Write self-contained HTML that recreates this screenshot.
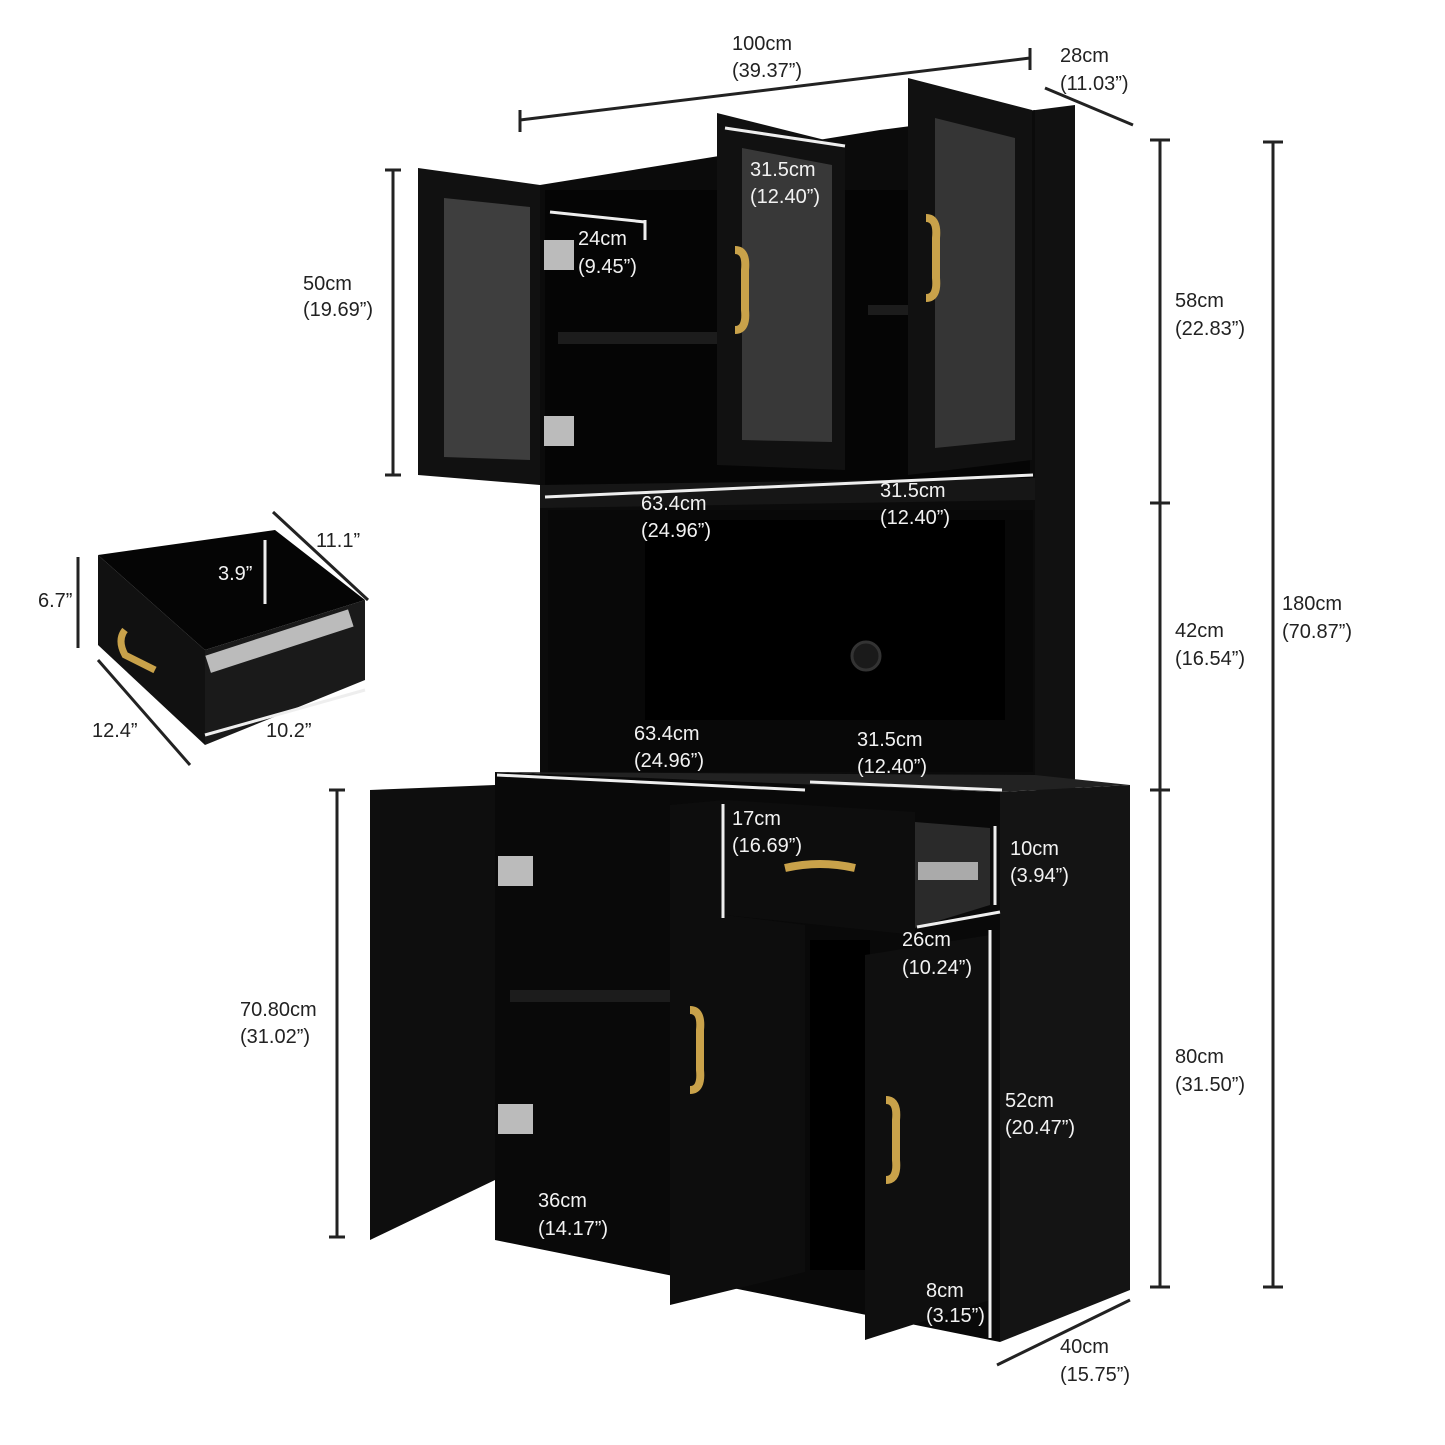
<!DOCTYPE html>
<html><head><meta charset="utf-8"><style>
html,body{margin:0;padding:0;background:#fff;}
svg{display:block}
text{font-family:"Liberation Sans",sans-serif;font-size:20px;fill:#222;}
text.w{fill:#f2f2f2;}
</style></head><body>
<svg width="1445" height="1445" viewBox="0 0 1445 1445" xmlns="http://www.w3.org/2000/svg">
<rect width="1445" height="1445" fill="#fff"/>
<polygon points="1020,112 1075,105 1075,790 1020,790" fill="#111"/>
<polygon points="540,185 880,130 1035,110 1035,790 540,790" fill="#0b0b0b"/>
<rect x="545" y="190" width="485" height="300" fill="#050505"/>
<rect x="548" y="510" width="485" height="262" fill="#080808"/>
<rect x="645" y="520" width="360" height="200" fill="#000"/>
<circle cx="866" cy="656" r="14" fill="#1a1a1a" stroke="#333" stroke-width="3"/>
<polygon points="540,485 1035,478 1035,500 540,508" fill="#161616"/>
<rect x="558" y="332" width="160" height="12" fill="#1c1c1c"/>
<rect x="868" y="305" width="40" height="10" fill="#1c1c1c"/>
<polygon points="1000,792 1130,785 1130,1290 1000,1342" fill="#141414"/>
<polygon points="495,772 1000,792 1000,1342 495,1240" fill="#090909"/>
<polygon points="495,772 1000,792 1130,785 1035,775" fill="#222"/>
<rect x="510" y="990" width="160" height="12" fill="#1c1c1c"/>
<rect x="810" y="940" width="60" height="330" fill="#000"/>
<polygon points="418,168 540,185 540,485 418,475" fill="#111"/>
<polygon points="444,198 530,207 530,460 444,457" fill="#3e3e3e"/>
<polygon points="717,113 845,145 845,470 717,465" fill="#111"/>
<polygon points="742,148 832,165 832,442 742,440" fill="#383838"/>
<polygon points="908,78 1032,110 1032,460 908,475" fill="#111"/>
<polygon points="935,118 1015,138 1015,440 935,448" fill="#353535"/>
<rect x="544" y="240" width="30" height="30" fill="#bbb"/>
<rect x="544" y="416" width="30" height="30" fill="#bbb"/>
<rect x="498" y="856" width="35" height="30" fill="#bbb"/>
<rect x="498" y="1104" width="35" height="30" fill="#bbb"/>
<path d="M735 250 q12 0 10 20 v40 q2 20 -10 20" stroke="#c9a24a" stroke-width="8" fill="none"/>
<path d="M926 218 q12 0 10 20 v40 q2 20 -10 20" stroke="#c9a24a" stroke-width="8" fill="none"/>
<polygon points="370,790 495,785 495,1180 370,1240" fill="#0e0e0e"/>
<polygon points="670,805 725,800 725,915 805,925 805,1272 670,1305" fill="#0d0d0d"/>
<polygon points="865,955 990,935 990,1300 865,1340" fill="#0f0f0f"/>
<path d="M690 1010 q12 0 10 20 v40 q2 20 -10 20" stroke="#c9a24a" stroke-width="8" fill="none"/>
<path d="M886 1100 q12 0 10 20 v40 q2 20 -10 20" stroke="#c9a24a" stroke-width="8" fill="none"/>
<polygon points="725,800 915,812 915,935 725,915" fill="#0d0d0d"/>
<polygon points="915,822 990,828 990,905 915,928" fill="#2a2a2a"/>
<rect x="918" y="862" width="60" height="18" fill="#aaa"/>
<path d="M785 868 q35 -8 70 0" stroke="#c9a24a" stroke-width="8" fill="none"/>
<polygon points="98,555 275,530 365,600 205,650" fill="#050505"/>
<polygon points="98,555 205,650 205,745 98,645" fill="#111"/>
<polygon points="205,650 365,600 365,680 205,745" fill="#1a1a1a"/>
<rect x="210" y="655" width="150" height="18" fill="#bbb" transform="rotate(-18 210 670)"/>
<path d="M125 630 q-8 10 0 25 l30 15" stroke="#c9a24a" stroke-width="7" fill="none"/>
<g stroke="#222" stroke-width="3" fill="none">
<line x1="520" y1="120" x2="1030" y2="58"/><line x1="520" y1="110" x2="520" y2="132"/><line x1="1030" y1="48" x2="1030" y2="70"/>
<line x1="1045" y1="88" x2="1133" y2="125"/>
<line x1="1160" y1="140" x2="1160" y2="1287"/><line x1="1150" y1="140" x2="1170" y2="140"/><line x1="1150" y1="503" x2="1170" y2="503"/><line x1="1150" y1="790" x2="1170" y2="790"/><line x1="1150" y1="1287" x2="1170" y2="1287"/>
<line x1="1273" y1="142" x2="1273" y2="1287"/><line x1="1263" y1="142" x2="1283" y2="142"/><line x1="1263" y1="1287" x2="1283" y2="1287"/>
<line x1="393" y1="170" x2="393" y2="475"/><line x1="385" y1="170" x2="401" y2="170"/><line x1="385" y1="475" x2="401" y2="475"/>
<line x1="337" y1="790" x2="337" y2="1237"/><line x1="329" y1="790" x2="345" y2="790"/><line x1="329" y1="1237" x2="345" y2="1237"/>
<line x1="997" y1="1365" x2="1130" y2="1300"/>
<line x1="78" y1="557" x2="78" y2="648"/>
<line x1="273" y1="512" x2="368" y2="600"/>
<line x1="98" y1="660" x2="190" y2="765"/>
</g>
<g stroke="#eee" stroke-width="3" fill="none">
<line x1="725" y1="128" x2="845" y2="146"/>
<line x1="550" y1="212" x2="645" y2="222"/><line x1="645" y1="220" x2="645" y2="240"/>
<line x1="545" y1="497" x2="1033" y2="475"/>
<line x1="497" y1="775" x2="805" y2="790"/><line x1="810" y1="782" x2="1002" y2="790"/>
<line x1="723" y1="804" x2="723" y2="918"/>
<line x1="995" y1="826" x2="995" y2="905"/>
<line x1="917" y1="927" x2="1000" y2="912"/>
<line x1="990" y1="930" x2="990" y2="1338"/>
<line x1="265" y1="540" x2="265" y2="604"/>
<line x1="205" y1="735" x2="365" y2="690"/>
</g>
<text x="732" y="50">100cm</text><text x="732" y="77">(39.37”)</text>
<text x="1060" y="62">28cm</text><text x="1060" y="90">(11.03”)</text>
<text class="w" x="750" y="176">31.5cm</text><text class="w" x="750" y="203">(12.40”)</text>
<text class="w" x="578" y="245">24cm</text><text class="w" x="578" y="273">(9.45”)</text>
<text x="303" y="290">50cm</text><text x="303" y="316">(19.69”)</text>
<text x="1175" y="307">58cm</text><text x="1175" y="335">(22.83”)</text>
<text class="w" x="641" y="510">63.4cm</text><text class="w" x="641" y="537">(24.96”)</text>
<text class="w" x="880" y="497">31.5cm</text><text class="w" x="880" y="524">(12.40”)</text>
<text x="1175" y="637">42cm</text><text x="1175" y="665">(16.54”)</text>
<text x="1282" y="610">180cm</text><text x="1282" y="638">(70.87”)</text>
<text class="w" x="634" y="740">63.4cm</text><text class="w" x="634" y="767">(24.96”)</text>
<text class="w" x="857" y="746">31.5cm</text><text class="w" x="857" y="773">(12.40”)</text>
<text class="w" x="732" y="825">17cm</text><text class="w" x="732" y="852">(16.69”)</text>
<text class="w" x="1010" y="855">10cm</text><text class="w" x="1010" y="882">(3.94”)</text>
<text class="w" x="902" y="946">26cm</text><text class="w" x="902" y="974">(10.24”)</text>
<text x="240" y="1016">70.80cm</text><text x="240" y="1043">(31.02”)</text>
<text x="1175" y="1063">80cm</text><text x="1175" y="1091">(31.50”)</text>
<text class="w" x="1005" y="1107">52cm</text><text class="w" x="1005" y="1134">(20.47”)</text>
<text class="w" x="538" y="1207">36cm</text><text class="w" x="538" y="1235">(14.17”)</text>
<text class="w" x="926" y="1297">8cm</text><text class="w" x="926" y="1322">(3.15”)</text>
<text x="1060" y="1353">40cm</text><text x="1060" y="1381">(15.75”)</text>
<text x="38" y="607">6.7”</text>
<text class="w" x="218" y="580">3.9”</text>
<text x="316" y="547">11.1”</text>
<text x="92" y="737">12.4”</text>
<text x="266" y="737">10.2”</text>
</svg>
</body></html>
